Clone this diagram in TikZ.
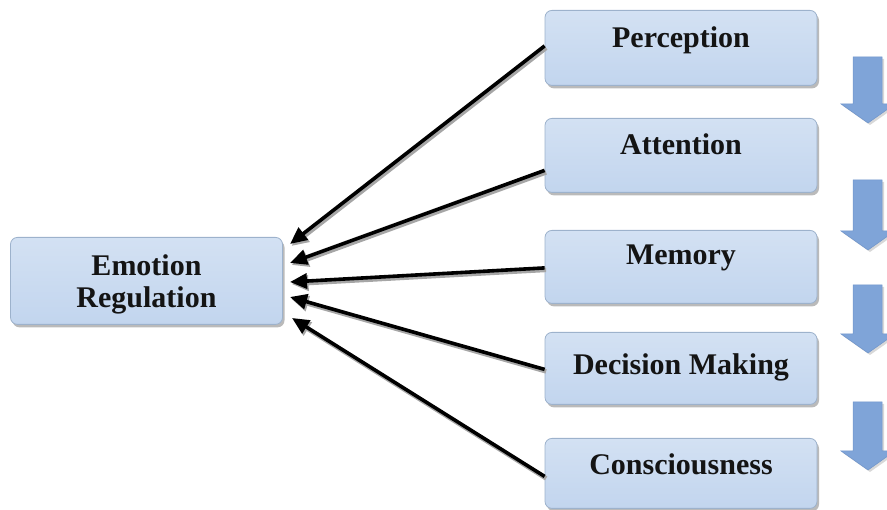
\documentclass[tikz,border=0pt]{standalone}
\usepackage{fontspec}
\setmainfont{Liberation Serif}
\usetikzlibrary{arrows.meta,shadows}
\definecolor{boxtop}{HTML}{D3E1F3}
\definecolor{boxbot}{HTML}{C2D5EE}
\definecolor{boxline}{HTML}{9DB2CC}
\definecolor{barrow}{HTML}{7FA4D8}
\definecolor{barrowdk}{HTML}{6F94CA}
\begin{document}
\begin{tikzpicture}[x=1pt,y=-1pt,
  boxnode/.style={draw=boxline,line width=0.8pt,rounded corners=7pt,
    top color=boxtop,bottom color=boxbot,minimum width=272pt,inner sep=0pt,anchor=north,
    drop shadow={shadow xshift=2pt,shadow yshift=-3pt,fill=black!45,opacity=0.6}},
  lbl/.style={font=\fontsize{30}{33}\selectfont\bfseries,text=black!92,inner sep=0pt,anchor=base,align=center},
  conn/.style={line width=3.6pt,black,-{Triangle[length=17pt,width=15pt]},
    preaction={draw=black!35,line width=4.5pt,transform canvas={xshift=1.5pt,yshift=-2pt},-{Triangle[length=17pt,width=15pt]}}},
  blockarrow/.style={fill=barrow,draw=barrowdk,line width=0.5pt,
    drop shadow={shadow xshift=2pt,shadow yshift=-2pt,fill=black!30,opacity=0.5}}]
\useasboundingbox (0,0) rectangle (887,510);
% left box
\node[boxnode,minimum height=87pt] (er) at (146.5,237) {};
\node[lbl] (ert) at (146.5,276) {Emotion};
\node[lbl] (erb) at (146.5,308) {Regulation};
% right boxes
\node[boxnode,minimum height=75pt] (per) at (681,10) {};
\node[boxnode,minimum height=74pt] (att) at (681,118) {};
\node[boxnode,minimum height=73pt] (mem) at (681,230) {};
\node[boxnode,minimum height=72pt] (dec) at (681,332) {};
\node[boxnode,minimum height=70pt] (con) at (681,438) {};
\node[lbl] (pert) at (681,48) {Perception};
\node[lbl] (attt) at (681,155) {Attention};
\node[lbl] (memt) at (681,265) {Memory};
\node[lbl] (dect) at (681,375) {Decision Making};
\node[lbl] (cont) at (681,475) {Consciousness};
% target coordinates on emotion box
\coordinate (t1) at (290,244);
\coordinate (t2) at (290,263);
\coordinate (t3) at (290,282);
\coordinate (t4) at (290,297);
\coordinate (t5) at (292,318);
\coordinate (s1) at ([yshift=2pt]per.west);
\coordinate (s2) at ([yshift=-15pt]att.west);
\coordinate (s3) at ([yshift=-1pt]mem.west);
\coordinate (s4) at ([yshift=-1pt]dec.west);
\coordinate (s5) at ([yshift=-3pt]con.west);
\draw[conn] (s1) -- (t1);
\draw[conn] (s2) -- (t2);
\draw[conn] (s3) -- (t3);
\draw[conn] (s4) -- (t4);
\draw[conn] (s5) -- (t5);
% block arrows
\foreach \t/\tip in {57/123,180/250,285/353,402/470}{
  \path[blockarrow] (853,\t) -- (882,\t) -- (882,\tip-19) -- (895,\tip-19) -- (868,\tip) -- (841,\tip-19) -- (853,\tip-19) -- cycle;
}
\end{tikzpicture}
\end{document}
